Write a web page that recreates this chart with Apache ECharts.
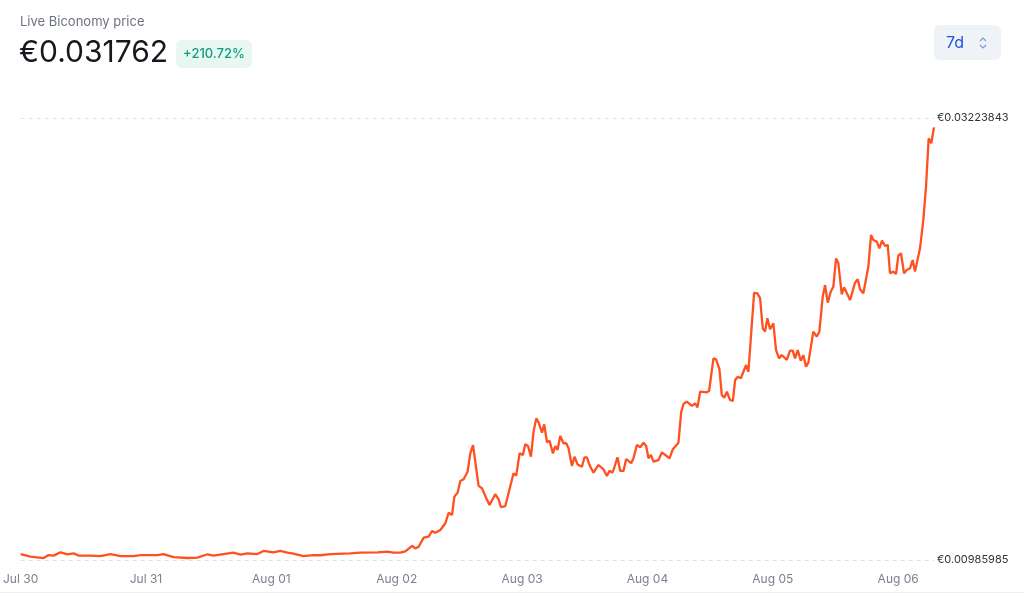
<!DOCTYPE html>
<html>
<head>
<meta charset="utf-8">
<script src="https://cdn.jsdelivr.net/npm/echarts@6/dist/echarts.min.js"></script>
<style>
html,body{margin:0;padding:0;background:#fff;}
#c{width:1024px;height:596px;}
</style>
</head>
<body>
<div id="c"></div>
<script>
const dayLabels = ['Jul 30','Jul 31','Aug 01','Aug 02','Aug 03','Aug 04','Aug 05','Aug 06'];
const yBounds = [0.00985985, 0.03223843];
const yLabels = ['€0.00985985', '€0.03223843'];
const hours = [
0,1.91,4.40,5.36,6.31,7.65,8.99,10.14,11.10,13.39,15.30,17.22,19.13,21.62,22.96,24.30,26.21,27.36,29.27,31.95,33.86,35.77,36.92,40.75,42.09,43.43,45.34,46.49,48.40,49.74,51.08,52.23,54.14,56.05,57.39,59.31,63.13,65.05,68.30,70.21,71.36,72.70,73.65,
74.94,75.57,76.20,77.16,78.11,78.76,79.39,80.35,81.31,81.94,82.59,83.03,83.66,84.18,84.81,85.57,86.09,86.61,87.68,88.33,89.15,89.78,90.87,91.50,91.96,92.79,94.37,94.89,95.52,96.17,96.61,97.13,97.70,98.20,98.72,99.16,99.81,100.25,100.76,101.26,101.91,102.35,102.79,103.31,103.94,104.45,104.89,105.54,106.04,106.62,107.46,107.95,108.41,108.91,109.68,110.63,111.59,112.24,112.74,113.31,113.70,114.27,114.79,115.42,115.93,116.89,117.33,117.98,118.62,119.25,119.76,120.20,120.66,121.16,122.12,122.77,124.22,124.87,125.94,
126.46,126.90,127.55,128.50,129.13,129.58,130.09,131.37,131.81,132.64,133.14,133.78,134.24,134.74,135.20,135.83,136.35,136.79,137.30,137.88,138.37,138.89,139.33,140.42,141.05,141.57,142.08,142.52,142.96,143.48,144.11,144.62,145.20,145.71,146.67,147.30,147.82,148.26,148.78,149.35,149.85,150.36,150.81,151.76,152.41,152.91,153.56,154.00,154.52,155.09,155.59,156.11,156.55,157.20,157.64,158.79,159.74,160.26,160.70,161.33,162.29,162.81,163.25,163.90,164.40,164.91,165.49,166.00,166.44,167.07,167.59,168.03,168.54,169.12,169.63,170.27,170.78,171.22,172.18,172.81,173.33,173.84,174.34,174.86
];
const prices = [
0.01016,0.01003,0.00996,0.01011,0.01008,0.01025,0.01015,0.01020,0.01008,0.01008,0.01006,0.01016,0.01006,0.01006,0.01011,0.01011,0.01011,0.01016,0.01001,0.00996,0.00998,0.01015,0.01008,0.01023,0.01013,0.01020,0.01016,0.01032,0.01025,0.01032,0.01023,0.01018,0.01006,0.01011,0.01010,0.01016,0.01020,0.01023,0.01025,0.01028,0.01023,0.01023,0.01030,
0.01058,0.01045,0.01053,0.01099,0.01104,0.01133,0.01124,0.01138,0.01172,0.01225,0.01214,0.01306,0.01327,0.01386,0.01395,0.01433,0.01526,0.01568,0.01361,0.01349,0.01298,0.01265,0.01319,0.01293,0.01253,0.01259,0.01425,0.01413,0.01526,0.01518,0.01572,0.01563,0.01509,0.01636,0.01703,0.01683,0.01631,0.01673,0.01582,0.01590,0.01526,0.01563,0.01543,0.01614,0.01577,0.01577,0.01552,0.01462,0.01509,0.01470,0.01458,0.01506,0.01506,0.01467,0.01428,0.01467,0.01445,0.01411,0.01438,0.01428,0.01458,0.01506,0.01437,0.01437,0.01497,0.01476,0.01501,0.01568,0.01557,0.01580,0.01563,0.01501,0.01518,0.01484,0.01492,0.01531,0.01501,0.01547,0.01580,
0.01735,0.01776,0.01788,0.01766,0.01779,0.01759,0.01838,0.01835,0.01843,0.02007,0.02002,0.01952,0.01821,0.01808,0.01838,0.01796,0.01791,0.01897,0.01914,0.01906,0.01939,0.01973,0.01939,0.02339,0.02336,0.02311,0.02159,0.02142,0.02210,0.02154,0.02184,0.02049,0.02007,0.02024,0.01999,0.02046,0.02046,0.02007,0.02049,0.01995,0.02022,0.01965,0.01985,0.02142,0.02117,0.02142,0.02319,0.02378,0.02289,0.02344,0.02370,0.02513,0.02488,0.02331,0.02367,0.02302,0.02390,0.02407,0.02357,0.02336,0.02471,0.02632,0.02606,0.02598,0.02564,0.02603,0.02576,0.02581,0.02438,0.02446,0.02434,0.02527,0.02539,0.02438,0.02454,0.02463,0.02505,0.02446,0.02564,0.02707,0.02876,0.03121,0.03096,0.031762
];
const titleText = 'Live Biconomy price';
const priceText = '€0.031762';
const changeText = '+210.72%';
const rangeText = '7d';

const seriesData = hours.map((h, i) => [h, prices[i]]);
const FONT = 'Inter, "Noto Sans", sans-serif';

const chart = echarts.init(document.getElementById('c'), null, {renderer: 'canvas'});
chart.setOption({
  animation: false,
  backgroundColor: '#ffffff',
  grid: {left: 20, right: 90, top: 118, bottom: 36, containLabel: false},
  xAxis: {
    type: 'value',
    min: 0,
    max: hours[hours.length - 1],
    interval: 24,
    axisLine: {show: false},
    axisTick: {show: false},
    splitLine: {show: false},
    axisLabel: {
      color: '#7b8190',
      fontFamily: FONT,
      fontSize: 12,
      margin: 13,
      showMaxLabel: false,
      formatter: function (v) {
        const k = Math.round(v / 24);
        return Math.abs(v - k * 24) < 1e-6 ? (dayLabels[k] || '') : '';
      }
    }
  },
  yAxis: {
    type: 'value',
    position: 'right',
    min: yBounds[0],
    max: yBounds[1],
    interval: yBounds[1] - yBounds[0],
    axisLine: {show: false},
    axisTick: {show: false},
    splitLine: {show: true, lineStyle: {color: '#dfe2e6', type: [4, 4], width: 1}},
    axisLabel: {
      color: '#2f3338',
      fontFamily: FONT,
      fontSize: 11,
      margin: 3,
      formatter: function (v) {
        return Math.abs(v - yBounds[0]) < 1e-9 ? yLabels[0] : yLabels[1];
      }
    }
  },
  series: [{
    type: 'line',
    data: seriesData,
    showSymbol: false,
    smooth: false,
    lineStyle: {color: '#ff5020', width: 2.3},
    itemStyle: {color: '#ff5020'}
  }],
  graphic: [
    {type: 'text', left: 20, top: 16, style: {text: titleText, fill: '#6b7280', font: '13px ' + FONT}},
    {type: 'text', left: 19, top: 38, style: {text: priceText, fill: '#16181d', font: '30px ' + FONT}},
    {type: 'rect', shape: {x: 176, y: 40, width: 76, height: 28, r: 6}, style: {fill: '#e9f7f3'}},
    {type: 'text', x: 214, y: 54, style: {text: changeText, fill: '#129e80', font: '500 13px ' + FONT, textAlign: 'center', textVerticalAlign: 'middle'}},
    {type: 'rect', shape: {x: 934, y: 25, width: 67, height: 35, r: 6}, style: {fill: '#eff2f6'}},
    {type: 'text', x: 946, y: 43, style: {text: rangeText, fill: '#1f53e0', font: '16px ' + FONT, textVerticalAlign: 'middle'}},
    {type: 'polyline', shape: {points: [[980, 41], [983, 38], [986, 41]]}, style: {stroke: '#7f97db', lineWidth: 1.2, fill: null}},
    {type: 'polyline', shape: {points: [[980, 45], [983, 48], [986, 45]]}, style: {stroke: '#7f97db', lineWidth: 1.2, fill: null}},
    {type: 'rect', shape: {x: 0, y: 592, width: 1024, height: 1}, style: {fill: '#f0f1f3'}}
  ]
});
</script>
</body>
</html>
